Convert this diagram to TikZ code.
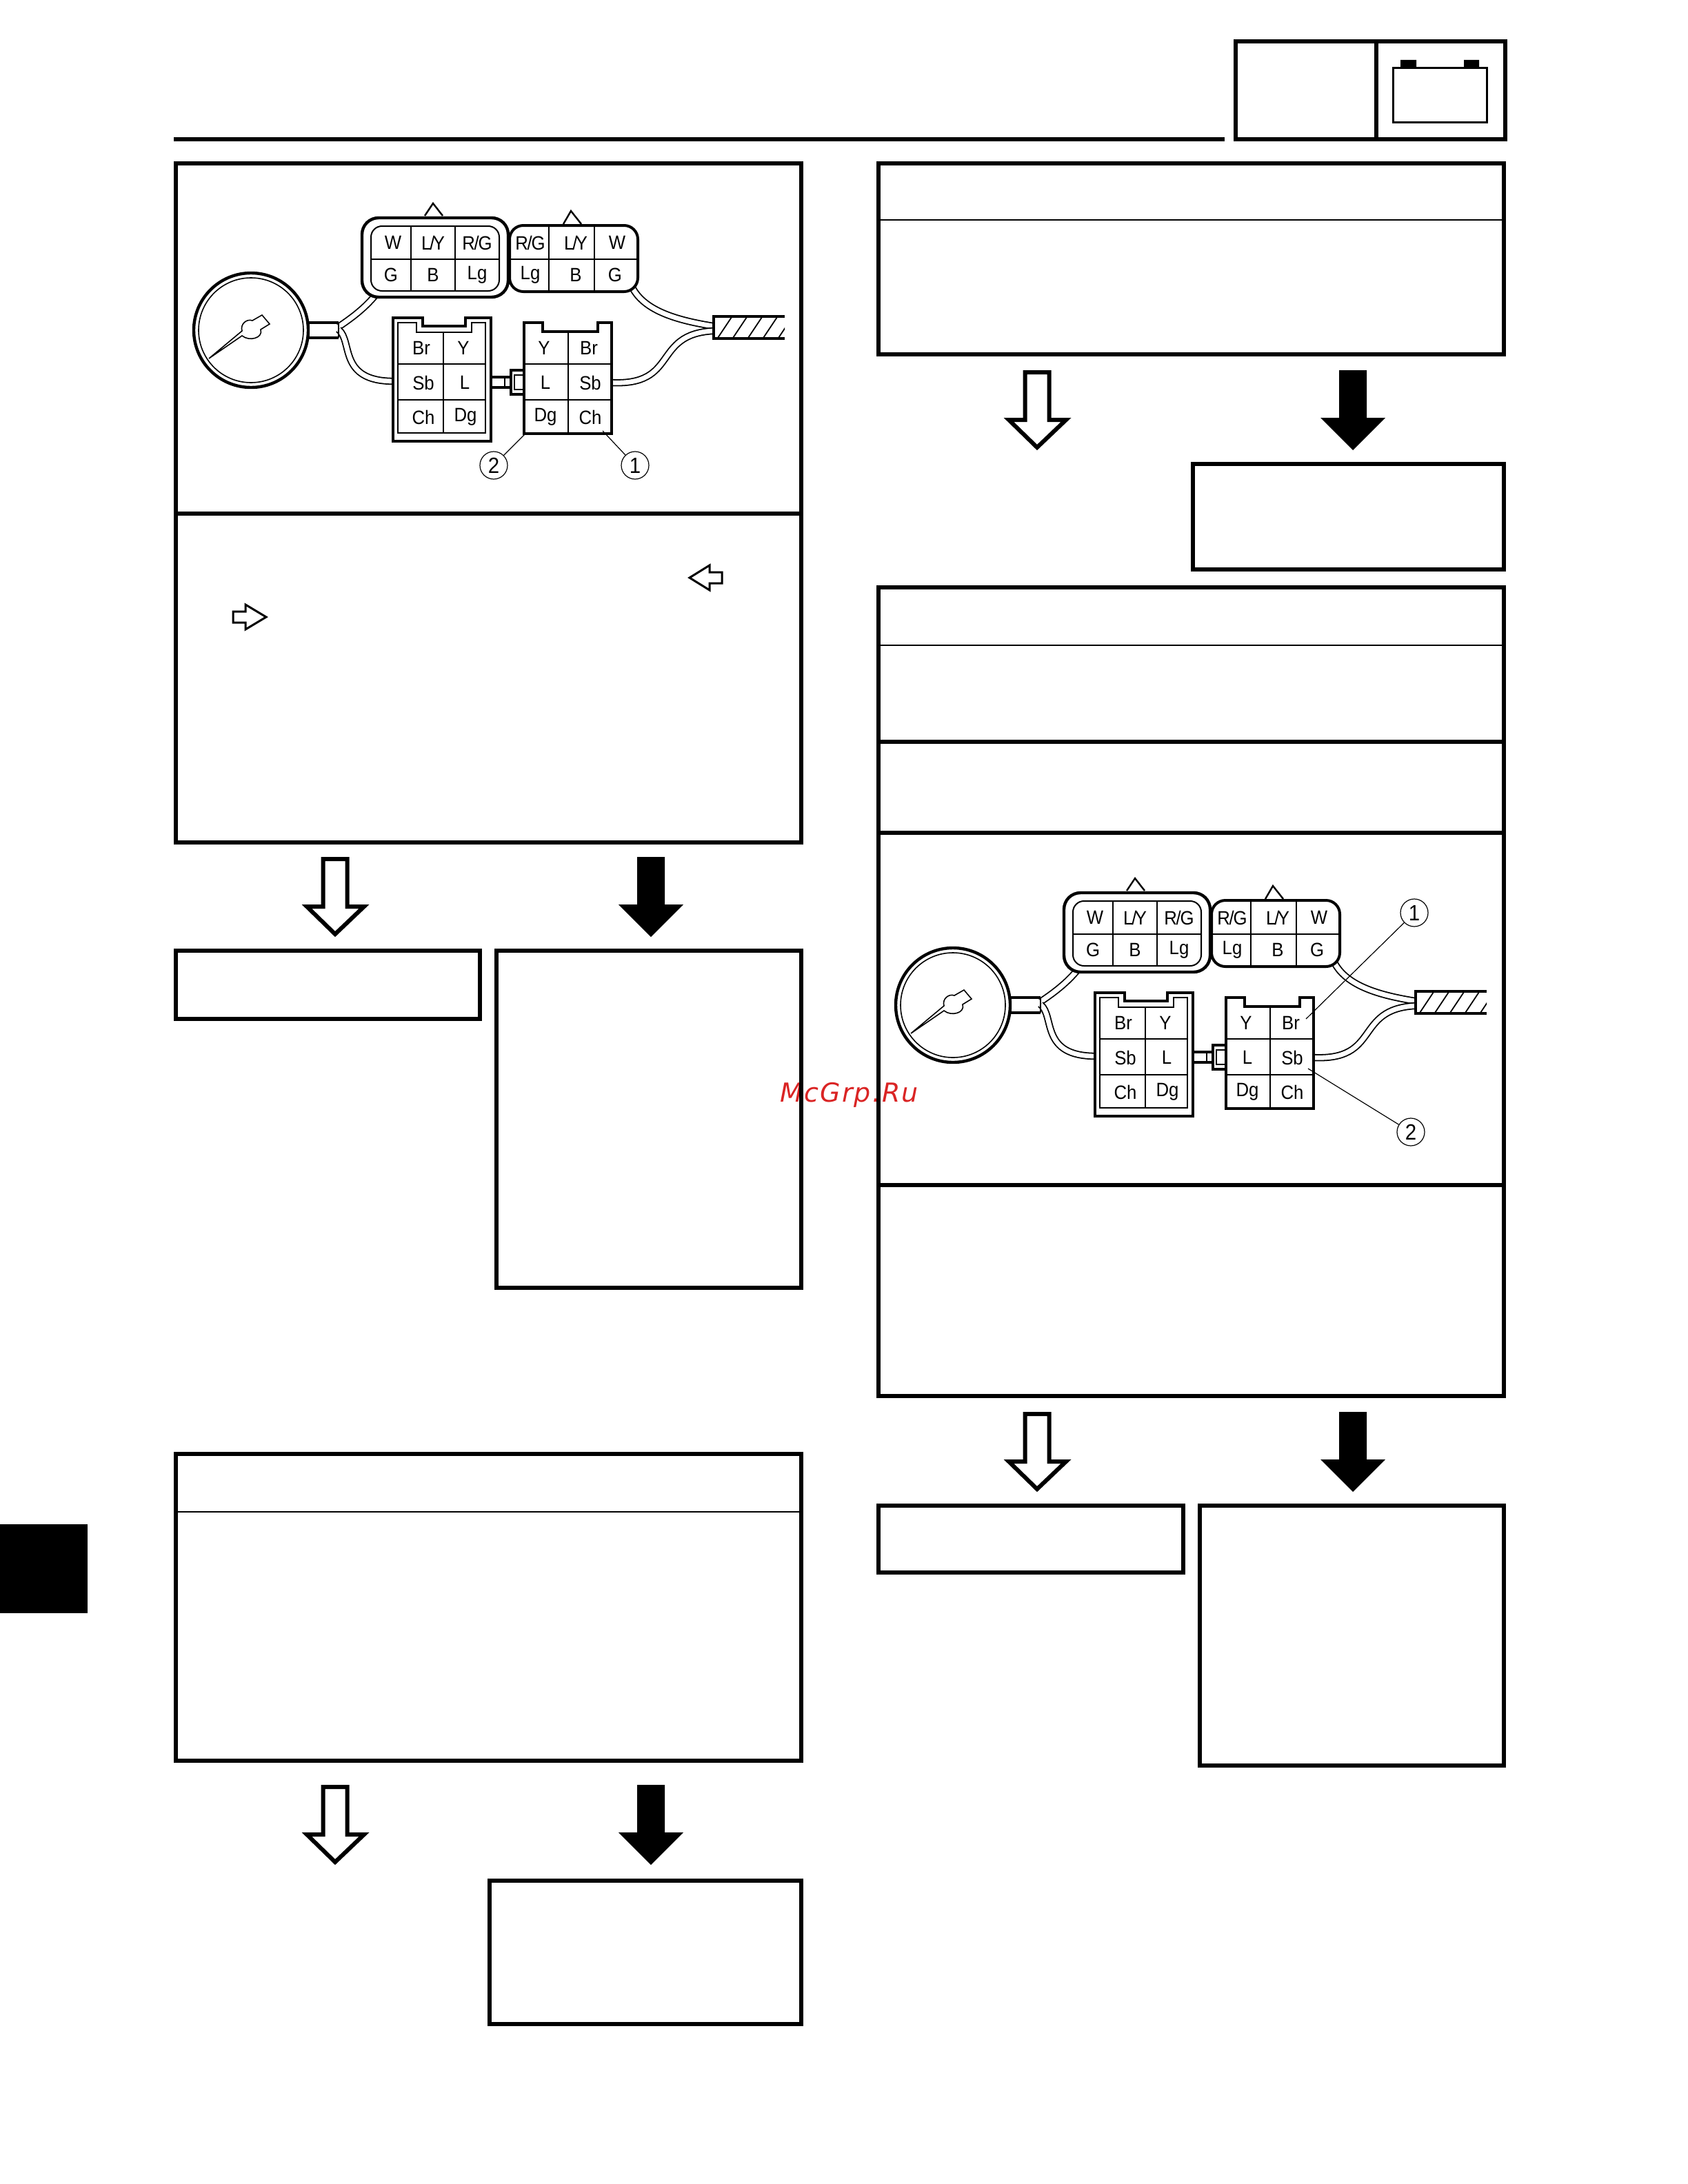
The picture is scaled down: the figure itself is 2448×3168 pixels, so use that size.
\documentclass[tikz,border=0pt]{standalone}
\usepackage{fontspec}
\setmainfont{Liberation Sans}[FakeStretch=0.92]
\newfontfamily\markfont{DejaVu Sans Oblique}[LetterSpace=5.5]
\usetikzlibrary{calc}
\definecolor{markred}{RGB}{218,36,36}
\tikzset{
  boxline/.style={line width=1.5pt,line join=miter},
  thinrule/.style={line width=.5pt},
  hollowarrow/.style={draw=black,fill=white,line width=1.5pt,line join=miter},
  solidarrow/.style={draw=none,fill=black},
  smallarrow/.style={draw=black,fill=white,line width=.75pt,line join=miter},
  grid line/.style={line width=.3pt},
  wirebase/.style={line width=2.6pt,black},
  wirecore/.style={line width=1.7pt,white},
  cell/.style={font=\fontsize{7}{8}\selectfont,inner sep=0pt},
  callout/.style={circle,draw,line width=.3pt,minimum size=10pt,inner sep=0pt,font=\fontsize{8}{8}\selectfont},
  leader/.style={line width=.3pt}
}
\newcommand{\arrowpair}[3]{%
 \begin{scope}[shift={(#1,#2)}]
  \path[hollowarrow] (468.5,1246) -- (468.5,1315) -- (445,1315) -- (486,1355) -- (528,1315) -- (503.5,1315) -- (503.5,1246) -- cycle;
  \path[solidarrow] (#3,1243) -- (#3+40,1243) -- (#3+40,1312) -- (#3+67,1312) -- (#3+20,1359) -- (#3-27,1312) -- (#3,1312) -- cycle;
 \end{scope}}
\newcommand{\wire}[1]{\draw[wirebase] #1; \draw[wirecore] #1;}
\newcommand{\gaugediagram}[3]{%
 \begin{scope}[shift={(#2,#3)}]
  \wire{(491,474) .. controls (515,458) and (530,445) .. (543,430)}
  \wire{(491,478) .. controls (512,495) and (490,553) .. (571,553)}
  \wire{(917,417) .. controls (935,452) and (985,465) .. (1034,473)}
  \wire{(886,555) .. controls (985,560) and (945,485) .. (1034,480)}
  \draw[line width=1.1pt] (364,479) circle (83);
  \draw[line width=.4pt] (364,479) circle (76);
  \draw[line width=.4pt,fill=white] (303,520) -- (351,480) .. controls (348,470) and (358,462) .. (366,465) -- (380,457) -- (391,470) -- (378,478) .. controls (382,490) and (362,496) .. (351,487) -- cycle;
  \draw[line width=1.1pt] (448,468) -- (491,468) (448,490) -- (491,490);
  \draw[line width=.6pt] (491,468) -- (491,490);
  \coordinate (#1ua) at (616,313); \coordinate (#1ub) at (642,313); \coordinate (#1uc) at (628,295);
  \draw[line width=.6pt] (#1ua) -- (#1uc) -- (#1ub);
  \draw[line width=1.1pt,rounded corners=6pt,fill=white] (525,316) rectangle (737,431);
  \draw[line width=.5pt,rounded corners=4pt] (538,328) rectangle (724,422);
  \draw[grid line] (538,376) -- (724,376) (596,328) -- (596,422) (660,328) -- (660,422);
  \foreach \t/\x/\y [count=\i] in {W/569/352,{L\kern-.5pt/\kern-.7pt Y}/627/352,{R\kern-.3pt/\kern-.3pt G}/691/352,G/566/399,B/627/399,Lg/691/399}
   \node[cell] (#1p\i) at (\x+1,\y) {\t};
  \draw[line width=.6pt] (817,325) -- (828,306) -- (843,325);
  \draw[line width=1pt,rounded corners=5pt,fill=white] (739,327) rectangle (925,423);
  \draw[grid line] (739,376) -- (925,376) (796,327) -- (796,423) (862,327) -- (862,423);
  \foreach \t/\x/\y [count=\i] in {{R\kern-.3pt/\kern-.3pt G}/768/352,{L\kern-.5pt/\kern-.7pt Y}/834/352,W/894/352,Lg/768/399,B/834/399,G/891/399}
   \node[cell] (#1q\i) at (\x+1,\y) {\t};
  \draw[line width=1pt,fill=white] (570,461) -- (613,461) -- (613,473) -- (675,473) -- (675,461) -- (712,461) -- (712,640) -- (570,640) -- cycle;
  \draw[line width=.4pt] (577,468) -- (604,468) -- (604,482) -- (684,482) -- (684,468) -- (704,468) -- (704,628) -- (577,628) -- cycle;
  \draw[grid line] (577,528) -- (704,528) (577,580) -- (704,580) (643,482) -- (643,628);
  \foreach \t/\x/\y [count=\i] in {Br/610/505,Y/671/505,Sb/613/555,L/673/555,Ch/613/605,Dg/674/605}
   \node[cell] (#1r\i) at (\x+1,\y) {\t};
  \draw[line width=1pt] (712,547) -- (741,547) (712,562) -- (741,562);
  \draw[line width=.3pt] (732,547) -- (732,562);
  \draw[line width=1pt,fill=white] (741,537) rectangle (760,572);
  \draw[line width=.5pt] (760,544) -- (746,544) -- (746,565) -- (760,565);
  \draw[line width=.8pt,fill=white] (760,468) -- (787,468) -- (787,481) -- (867,481) -- (867,468) -- (887,468) -- (887,629) -- (760,629) -- cycle;
  \draw[grid line] (760,528) -- (887,528) (760,580) -- (887,580) (824,481) -- (824,629);
  \foreach \t/\x/\y [count=\i] in {Y/788/505,Br/853/505,L/790/555,Sb/855/555,Dg/790/605,Ch/855/605}
   \node[cell] (#1s\i) at (\x+1,\y) {\t};
  \begin{scope}
   \clip (1035,458) rectangle (1138,492);
   \foreach \k in {0,...,5}
    \draw[line width=.45pt] (1041+22*\k,490) -- (1061+22*\k,460);
  \end{scope}
  \draw[line width=1.1pt] (1138,459) -- (1035,459) -- (1035,491) -- (1138,491);
 \end{scope}}
\begin{document}
\begin{tikzpicture}[x=.25pt,y=-.25pt]
\useasboundingbox (0,0) rectangle (2448,3168);
\fill[white] (0,0) rectangle (2448,3168);
\node[anchor=base west,inner sep=0pt,text=markred,font=\fontsize{9.5}{10}\markfont] (watermark) at (1131,1598) {McGrp.Ru};
\fill (252,199) rectangle (1776,205);
\draw[boxline] (1792,60) rectangle (2183,202);
\draw[boxline] (1996,60) -- (1996,202);
\draw[line width=.75pt] (2020.5,98.5) rectangle (2156.5,177.5);
\fill (2031,87) rectangle (2054,97) (2123,87) rectangle (2145,97);
\fill (0,2211) rectangle (127,2340);
\draw[boxline] (255,237) rectangle (1162,1222);
\draw[boxline] (255,745) -- (1162,745);
\draw[boxline] (255,1379) rectangle (696,1478);
\draw[boxline] (720,1379) rectangle (1162,1868);
\draw[boxline] (255,2109) rectangle (1162,2554);
\draw[thinrule] (255,2193) -- (1162,2193);
\draw[boxline] (710,2728) rectangle (1162,2936);
\draw[boxline] (1274,237) rectangle (2181,514);
\draw[thinrule] (1274,319) -- (2181,319);
\draw[boxline] (1730,673) rectangle (2181,826);
\draw[boxline] (1274,852) rectangle (2181,2025);
\draw[thinrule] (1274,936) -- (2181,936);
\draw[boxline] (1274,1076) -- (2181,1076);
\draw[boxline] (1274,1208) -- (2181,1208);
\draw[boxline] (1274,1719) -- (2181,1719);
\draw[boxline] (1274,2184) rectangle (1716,2281);
\draw[boxline] (1740,2184) rectangle (2181,2561);
\arrowpair{0}{0}{924}
\arrowpair{0}{1346}{924}
\arrowpair{1018}{-706}{924}
\arrowpair{1018}{805}{924}
\path[smallarrow] (1000,838) -- (1029,820) -- (1029,830) -- (1047,830) -- (1047,846) -- (1029,846) -- (1029,856) -- cycle;
\path[smallarrow] (386,895) -- (356,877) -- (356,887) -- (338,887) -- (338,903) -- (356,903) -- (356,913) -- cycle;
\gaugediagram{a}{0}{0}
\gaugediagram{b}{1018}{979}
\node[callout] (a2) at (716,675) {2};
\node[callout] (a1) at (921,675) {1};
\coordinate (a2end) at (761,630);
\coordinate (a1end) at (874,625);
\draw[leader] (a2) -- (a2end);
\draw[leader] (a1) -- (a1end);
\node[callout] (b1) at (2051,1324) {1};
\node[callout] (b2) at (2046,1642) {2};
\coordinate (b1end) at (1894,1478);
\coordinate (b2end) at (1897,1550);
\draw[leader] (b1) -- (b1end);
\draw[leader] (b2) -- (b2end);
\end{tikzpicture}
\end{document}
